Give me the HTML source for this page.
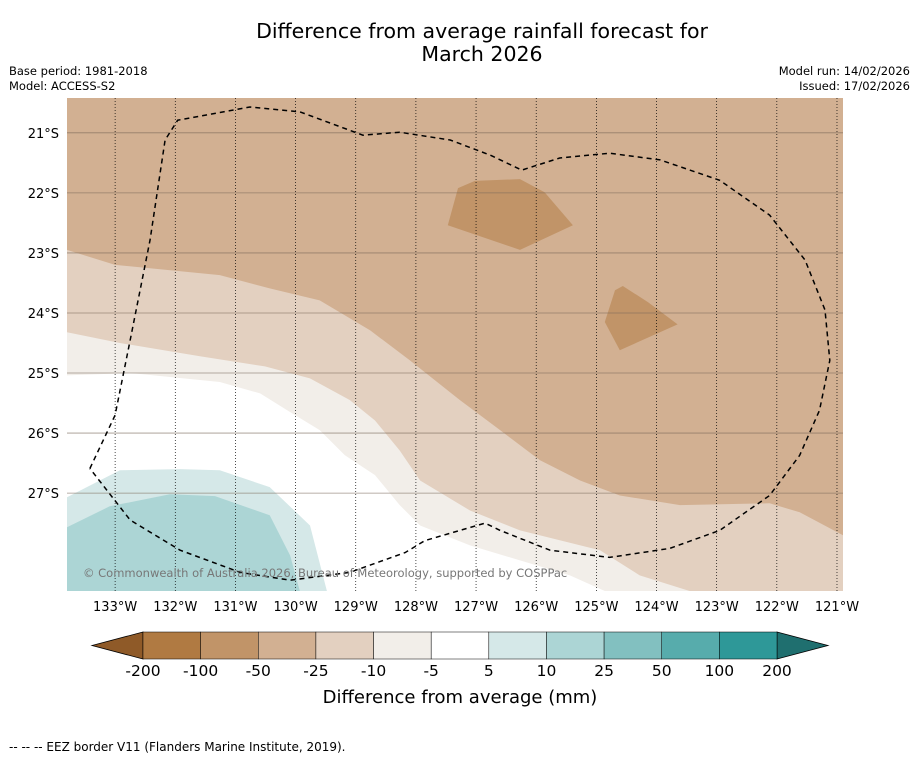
<!DOCTYPE html>
<html><head><meta charset="utf-8"><style>
body{margin:0;background:#fff;font-family:"DejaVu Sans","Liberation Sans",sans-serif;}
#wrap{position:relative;width:919px;height:758px;overflow:hidden;}
</style></head><body>
<div id="wrap">
<svg id="svg" width="919" height="758" xmlns="http://www.w3.org/2000/svg" font-family="DejaVu Sans, Liberation Sans, sans-serif">
<text x="482" y="38" font-size="20.5" text-anchor="middle">Difference from average rainfall forecast for</text>
<text x="482" y="61" font-size="20.5" text-anchor="middle">March 2026</text>
<text x="9" y="75" font-size="11.5">Base period: 1981-2018</text>
<text x="9" y="90" font-size="11.5">Model: ACCESS-S2</text>
<text x="910" y="75" font-size="11.5" text-anchor="end">Model run: 14/02/2026</text>
<text x="910" y="90" font-size="11.5" text-anchor="end">Issued: 17/02/2026</text>
<g id="map"></g>
<g id="cbar"></g>
<text x="460" y="703" font-size="18" text-anchor="middle">Difference from average (mm)</text>
<text x="9" y="751" font-size="12">--  --  -- EEZ border V11 (Flanders Marine Institute, 2019).</text>
</svg>
</div>
<script>
const lonTicks=[-133,-132,-131,-130,-129,-128,-127,-126,-125,-124,-123,-122,-121];
const latTicks=[-21,-22,-23,-24,-25,-26,-27];
const cbBounds=[-200,-100,-50,-25,-10,-5,5,10,25,50,100,200];
const cbColors=["#b07a42","#c19468","#d2b092","#e3d0c0","#f2eee9","#ffffff","#d5e8e8","#acd5d5","#82c0c0","#57acac","#2e9898"];
const lowColor="#8f5a28", highColor="#1f6f6f";
const bgLevel="#d2b092";
const band25=[[-133.8,-22.95],[-133.0,-23.2],[-131.26,-23.37],[-130.43,-23.59],[-129.6,-23.79],[-128.76,-24.29],[-128.1,-24.79],[-127.27,-25.45],[-126.6,-25.95],[-125.94,-26.45],[-125.27,-26.79],[-124.61,-27.04],[-123.61,-27.2],[-122.12,-27.17],[-121.62,-27.32],[-120.9,-27.7],[-120.9,-28.63],[-133.8,-28.63]];
const band10=[[-133.8,-24.32],[-132.92,-24.5],[-131.59,-24.72],[-130.51,-24.89],[-129.76,-25.09],[-129.1,-25.45],[-128.68,-25.79],[-128.27,-26.29],[-127.93,-26.79],[-127.1,-27.29],[-126.27,-27.62],[-124.94,-27.95],[-124.28,-28.37],[-123.45,-28.63],[-133.8,-28.63]];
const band5=[[-133.8,-25.04],[-132.75,-25.0],[-131.26,-25.15],[-130.59,-25.34],[-130.09,-25.65],[-129.6,-25.95],[-129.18,-26.37],[-128.68,-26.7],[-128.27,-27.2],[-127.93,-27.54],[-127.1,-27.87],[-126.27,-28.12],[-125.44,-28.37],[-124.86,-28.63],[-133.8,-28.63]];
const bandT10=[[-133.8,-27.07],[-132.92,-26.62],[-131.92,-26.6],[-131.26,-26.62],[-130.43,-26.9],[-129.76,-27.54],[-129.48,-28.63],[-133.8,-28.63]];
const bandT25=[[-133.8,-27.57],[-133.09,-27.22],[-132.09,-27.02],[-131.34,-27.05],[-130.43,-27.37],[-130.09,-28.04],[-129.93,-28.63],[-133.8,-28.63]];
const patch1=[[-127.3,-21.92],[-127.02,-21.8],[-126.27,-21.77],[-125.86,-21.99],[-125.39,-22.54],[-126.27,-22.95],[-127.47,-22.54]];
const patch2=[[-124.86,-24.15],[-124.69,-23.62],[-124.56,-23.55],[-124.14,-23.82],[-123.65,-24.19],[-124.61,-24.62]];
const eez=[[-133.42,-26.59],[-133.0,-25.7],[-132.75,-24.45],[-132.42,-22.79],[-132.17,-21.12],[-131.96,-20.79],[-130.76,-20.57],[-129.93,-20.65],[-128.88,-21.04],[-128.27,-20.99],[-127.43,-21.12],[-126.77,-21.37],[-126.24,-21.62],[-125.61,-21.42],[-124.78,-21.34],[-123.94,-21.45],[-122.95,-21.79],[-122.12,-22.37],[-121.53,-23.12],[-121.2,-23.95],[-121.12,-24.79],[-121.29,-25.62],[-121.62,-26.37],[-122.12,-27.04],[-122.95,-27.62],[-123.78,-27.92],[-124.78,-28.07],[-125.77,-27.95],[-126.6,-27.62],[-126.85,-27.5],[-127.85,-27.79],[-128.18,-27.99],[-129.1,-28.32],[-130.09,-28.45],[-130.92,-28.32],[-131.92,-27.95],[-132.75,-27.45],[-133.42,-26.59]];

const NS="http://www.w3.org/2000/svg";
const X0=67,X1=843,Y0=98,Y1=591,LON0=-133.8,LON1=-120.9,LAT0=-20.42,LAT1=-28.63;
const xs=l=>X0+(l-LON0)/(LON1-LON0)*(X1-X0);
const ys=l=>Y0+(LAT0-l)/(LAT0-LAT1)*(Y1-Y0);
const pts=a=>a.map(p=>xs(p[0]).toFixed(1)+","+ys(p[1]).toFixed(1)).join(" ");
function mk(tag,attrs,parent){const e=document.createElementNS(NS,tag);for(const k in attrs)e.setAttribute(k,attrs[k]);parent.appendChild(e);return e;}
const map=document.getElementById("map");
let r=mk("rect",{x:X0,y:Y0,width:X1-X0,height:Y1-Y0,fill:bgLevel},map);


const layers=[[band25,"#e3d0c0","band-minus25-minus10"],[band10,"#f2eee9","band-minus10-minus5"],[band5,"#ffffff","band-near-average"],[bandT10,"#d5e8e8","band-5-10"],[bandT25,"#acd5d5","band-10-25"],[patch1,"#c19468","patch-drier-north"],[patch2,"#c19468","patch-drier-east"]];
layers.forEach(L=>{const p=mk("polygon",{points:pts(L[0]),fill:L[1]},map);

});
lonTicks.forEach(l=>{const x=xs(l);
const g=mk("line",{x1:x,x2:x,y1:Y0,y2:Y1,stroke:"#000","stroke-width":0.7,"stroke-dasharray":"1,2"},map);


const t=mk("text",{x:x,y:Y1+20,"font-size":13,"text-anchor":"middle"},map);t.textContent=Math.abs(l)+"°W";

});
latTicks.forEach(l=>{const y=ys(l);
const g=mk("line",{x1:X0,x2:X1,y1:y,y2:y,stroke:"#7a6a5a","stroke-width":0.8,"stroke-opacity":0.7},map);


const t=mk("text",{x:X0-8,y:y+5,"font-size":13,"text-anchor":"end"},map);t.textContent=Math.abs(l)+"°S";

});
const e=mk("polyline",{points:pts(eez),fill:"none",stroke:"#000","stroke-width":1.5,"stroke-dasharray":"5,4"},map);


const c=mk("text",{x:83,y:577,"font-size":11.5,fill:"#777"},map);c.textContent="© Commonwealth of Australia 2026, Bureau of Meteorology, supported by COSPPac";



const cb=document.getElementById("cbar");
const CX0=143,CX1=777,CY0=632,CY1=659,n=cbColors.length,w=(CX1-CX0)/n;
const lt=mk("polygon",{points:`92,645.5 ${CX0},${CY0} ${CX0},${CY1}`,fill:lowColor,stroke:"#000","stroke-width":0.8},cb);


const ht=mk("polygon",{points:`828,645.5 ${CX1},${CY0} ${CX1},${CY1}`,fill:highColor,stroke:"#000","stroke-width":0.8},cb);


cbColors.forEach((col,i)=>{const b=mk("rect",{x:CX0+i*w,y:CY0,width:w,height:CY1-CY0,fill:col,stroke:"#000","stroke-width":0.5},cb);

});
cbBounds.forEach((v,i)=>{const t=mk("text",{x:CX0+i*w,y:676,"font-size":15.5,"text-anchor":"middle"},cb);t.textContent=v;

});
</script>
</body></html>
